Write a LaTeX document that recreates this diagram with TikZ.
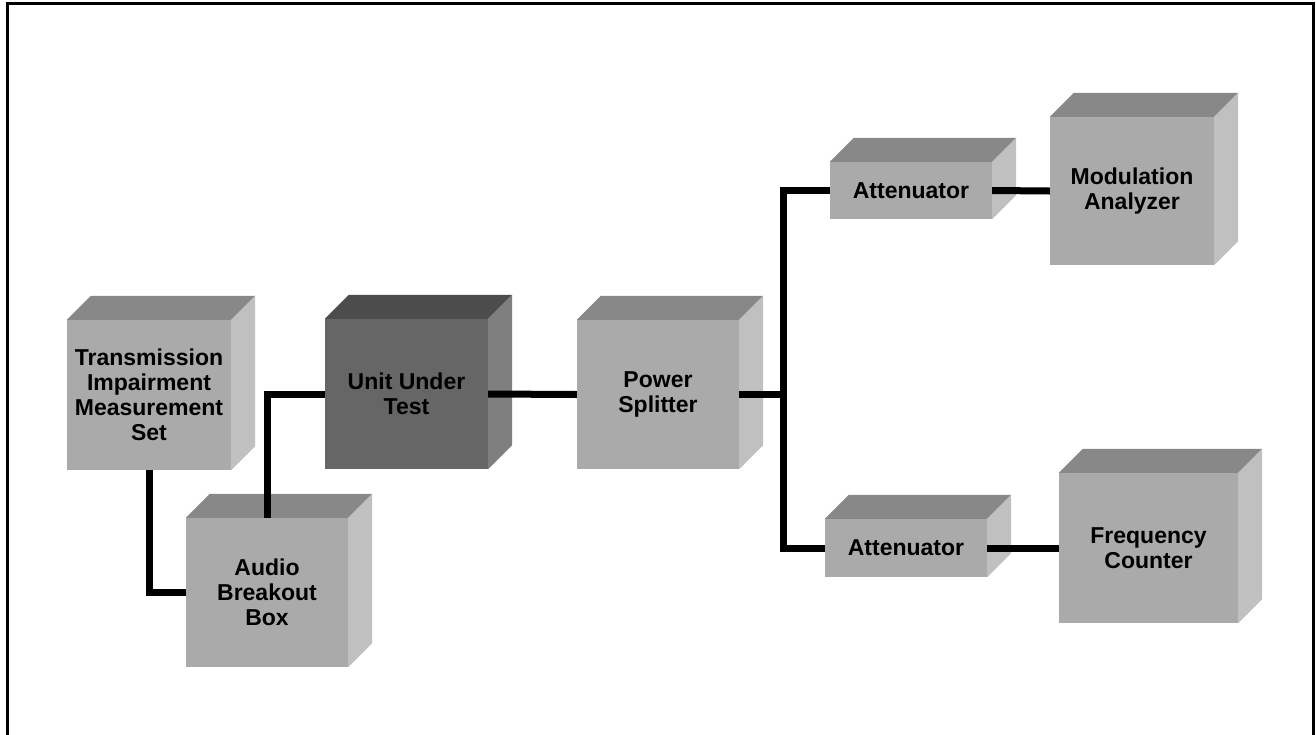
\documentclass[tikz,border=0pt]{standalone}
\usepackage{fontspec}
\setmainfont{Liberation Sans}
\usetikzlibrary{calc}
\definecolor{frontg}{HTML}{AAAAAA}
\definecolor{topg}{HTML}{888888}
\definecolor{sideg}{HTML}{C0C0C0}
\definecolor{dfront}{HTML}{666666}
\definecolor{dtop}{HTML}{4C4C4C}
\definecolor{dside}{HTML}{7F7F7F}
\newcommand\cubefaces[3]{%
  \fill[#2] (#1.north west) -- ++(24,-24) -- ($(#1.north east)+(24,-24)$) -- (#1.north east) -- cycle;
  \fill[#3] (#1.north east) -- ++(24,-24) -- ($(#1.south east)+(24,-24)$) -- (#1.south east) -- cycle;
}
\begin{document}
\begin{tikzpicture}[x=1pt,y=-1pt,
  unitbox/.style={fill=frontg, inner sep=0pt, align=center,
    font=\fontsize{23}{25}\selectfont\bfseries},
  darkbox/.style={unitbox, fill=dfront},
  wire/.style={line width=7pt, line join=miter}]
\useasboundingbox (0,0) rectangle (1316,734);
\fill[white] (0,0) rectangle (1316,734);
\draw[line width=3pt] (7,760) -- (7,3.5) -- (1313.5,3.5) -- (1313.5,760);

\node[unitbox, minimum width=164pt, minimum height=150pt] (tims) at (149,395) {Transmission\\Impairment\\Measurement\\Set};
\cubefaces{tims}{topg}{sideg}
\node[unitbox, minimum width=162pt, minimum height=149pt] (audio) at (267,592.5) {Audio\\Breakout\\Box};
\cubefaces{audio}{topg}{sideg}
\node[darkbox, minimum width=163pt, minimum height=150pt] (uut) at (406.5,394) {Unit Under\\Test};
\cubefaces{uut}{dtop}{dside}
\node[unitbox, minimum width=162pt, minimum height=149pt] (ps) at (658,394.5) {Power\\Splitter};
\cubefaces{ps}{topg}{sideg}
\node[unitbox, minimum width=162pt, minimum height=57pt] (att1) at (911,190.5) {Attenuator};
\cubefaces{att1}{topg}{sideg}
\node[unitbox, minimum width=164pt, minimum height=148pt] (ma) at (1132,191) {Modulation\\Analyzer};
\cubefaces{ma}{topg}{sideg}
\node[unitbox, minimum width=162pt, minimum height=58pt] (att2) at (906,548) {Attenuator};
\cubefaces{att2}{topg}{sideg}
\node[unitbox, minimum width=179pt, minimum height=150pt] (fc) at (1148.5,548) {Frequency\\Counter};
\cubefaces{fc}{topg}{sideg}

\coordinate (j) at (783,394.5);
\draw[wire] (tims.south) |- (audio.west);
\draw[wire] (audio.north) |- (uut.west);
\draw[wire] (uut.east) -- (ps.west);
\draw[wire] (ps.east) -- (j);
\draw[wire] (j) |- (att1.west);
\draw[wire] (j) |- (att2.west);
\draw[wire] (att1.east) -- (ma.west);
\draw[wire] (att2.east) -- (fc.west);
\end{tikzpicture}
\end{document}
